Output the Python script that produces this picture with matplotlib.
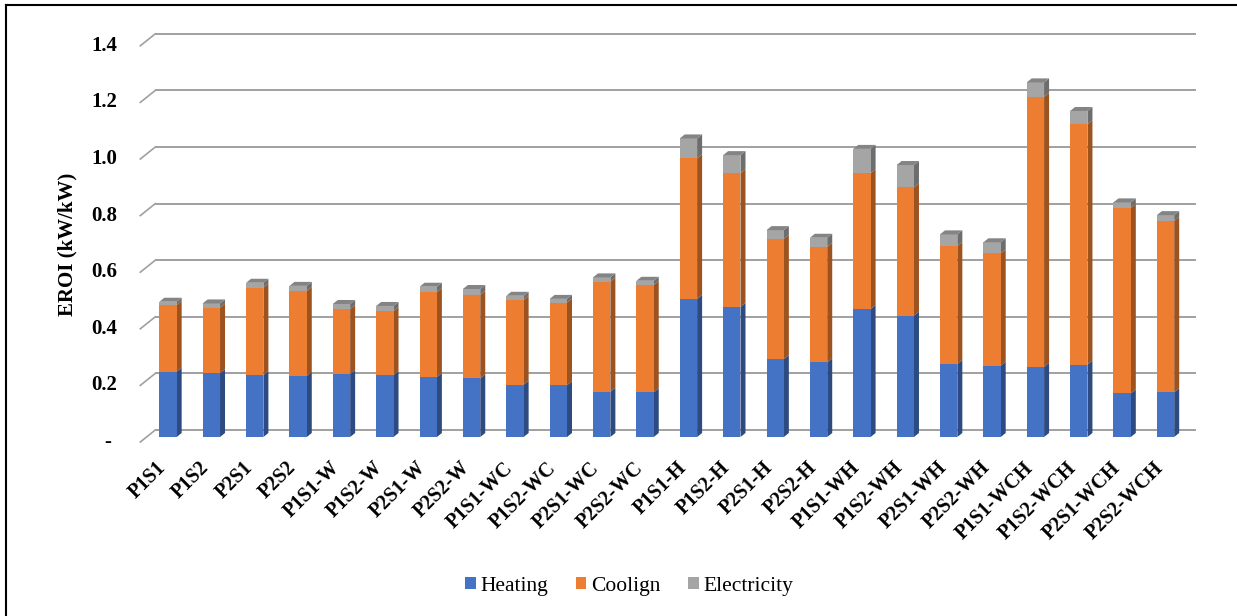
import matplotlib
matplotlib.use('agg')
import matplotlib.pyplot as plt
import matplotlib.colors as mcolors
from matplotlib.lines import Line2D
from matplotlib.patches import Patch, Polygon
import numpy as np

scenarios = ['P1S1', 'P1S2', 'P2S1', 'P2S2',
             'P1S1-W', 'P1S2-W', 'P2S1-W', 'P2S2-W',
             'P1S1-WC', 'P1S2-WC', 'P2S1-WC', 'P2S2-WC',
             'P1S1-H', 'P1S2-H', 'P2S1-H', 'P2S2-H',
             'P1S1-WH', 'P1S2-WH', 'P2S1-WH', 'P2S2-WH',
             'P1S1-WCH', 'P1S2-WCH', 'P2S1-WCH', 'P2S2-WCH']

heating = [0.231, 0.225, 0.219, 0.216, 0.223, 0.219, 0.212, 0.207,
           0.185, 0.183, 0.160, 0.158, 0.488, 0.460, 0.275, 0.264,
           0.452, 0.429, 0.258, 0.252, 0.248, 0.256, 0.154, 0.158]
cooling = [0.235, 0.232, 0.309, 0.300, 0.229, 0.226, 0.300, 0.295,
           0.299, 0.292, 0.389, 0.379, 0.497, 0.472, 0.425, 0.408,
           0.480, 0.453, 0.417, 0.397, 0.954, 0.849, 0.656, 0.606]
electricity = [0.012, 0.015, 0.017, 0.018, 0.018, 0.018, 0.019, 0.021,
               0.015, 0.013, 0.015, 0.015, 0.070, 0.064, 0.031, 0.032,
               0.086, 0.079, 0.041, 0.039, 0.051, 0.047, 0.019, 0.020]

series_names = ['Heating', 'Coolign', 'Electricity']
series_colors = ['#4472C4', '#ED7D31', '#A5A5A5']
y_ticks = [0.0, 0.2, 0.4, 0.6, 0.8, 1.0, 1.2, 1.4]
y_labels = ['-', '0.2', '0.4', '0.6', '0.8', '1.0', '1.2', '1.4']

plt.rcParams['font.family'] = ['Liberation Serif', 'DejaVu Serif']

W, H = 1237, 616
fig = plt.figure(figsize=(W / 100, H / 100), dpi=100)

# plotting plane of the bar fronts, in pixels
left_px, right_px = 146.3, 1187.2
base_px, top_px = 437.0, 40.8
ax = fig.add_axes([left_px / W, 1 - base_px / H,
                   (right_px - left_px) / W, (base_px - top_px) / H])
n = len(scenarios)
ax.set_xlim(-0.5, n - 0.5)
ax.set_ylim(0, 1.4)
ax.axis('off')

# pixel -> data conversions for the fake depth
px_x = (right_px - left_px) / n
px_y = (base_px - top_px) / 1.4
def dx(p):
    return p / px_x
def dy(p):
    return p / px_y

grid_col = '#a0a0a0'
x0, x1 = -0.5, n - 0.5
for v, lab in zip(y_ticks, y_labels):
    # back wall line
    ax.plot([x0 + dx(9), x1 + dx(9)], [v + dy(7), v + dy(7)], color=grid_col,
            lw=1.4, clip_on=False, zorder=0, solid_capstyle='butt')
    # short depth stub on the left
    ax.plot([x0 - dx(6), x0 + dx(9)], [v - dy(5), v + dy(7)], color=grid_col,
            lw=1.2, clip_on=False, zorder=0)
    pad = 23 if lab != '-' else 29
    ax.text(x0 - dx(6) - dx(pad), v - dy(5), lab, ha='right', va='center',
            fontsize=15, fontweight='bold', clip_on=False)

def shade(c, f):
    r, g, b = mcolors.to_rgb(c)
    return (r * f, g * f, b * f)

bw = 0.40
ddx, ddy = dx(5), dy(4)
x = np.arange(n)
bottom = np.zeros(n)
for vals, col in zip([heating, cooling, electricity], series_colors):
    vals = np.array(vals)
    ax.bar(x, vals, bw, bottom=bottom, color=col, linewidth=0, zorder=3)
    for i in range(n):
        xr = x[i] + bw / 2
        y0, y1 = bottom[i], bottom[i] + vals[i]
        side = Polygon([(xr, y0), (xr + ddx, y0 + ddy), (xr + ddx, y1 + ddy), (xr, y1)],
                       closed=True, facecolor=shade(col, 0.66), edgecolor='none',
                       zorder=2)
        ax.add_patch(side)
    bottom = bottom + vals

top_col = series_colors[-1]
for i in range(n):
    xl, xr = x[i] - bw / 2, x[i] + bw / 2
    y1 = bottom[i]
    top = Polygon([(xl, y1), (xl + ddx, y1 + ddy), (xr + ddx, y1 + ddy), (xr, y1)],
                  closed=True, facecolor=shade(top_col, 0.8), edgecolor='none',
                  zorder=4, clip_on=False)
    ax.add_patch(top)

for i, lab in enumerate(scenarios):
    ax.text(i - dx(5), -dy(28), lab, rotation=45, ha='right', va='center',
            rotation_mode='anchor', fontsize=14.5, fontweight='bold', clip_on=False)

fig.text(67 / W, 1 - 244 / H, 'EROI (kW/kW)', rotation=90, ha='center', va='center',
         fontsize=15, fontweight='bold')

handles = [Patch(facecolor=c, edgecolor='none', label=s)
           for s, c in zip(series_names, series_colors)]
fig.legend(handles=handles, loc='center', bbox_to_anchor=(629 / W, 1 - 586 / H),
           ncol=3, frameon=False, fontsize=15.5, handlelength=0.5, handleheight=0.5,
           handletextpad=0.2, columnspacing=1.3)

# outer frame (left and top edges)
fig.add_artist(Line2D([6 / W, 6 / W], [0, 1 - 5 / H], transform=fig.transFigure,
                      color='black', lw=1.5))
fig.add_artist(Line2D([6 / W, 1], [1 - 5 / H, 1 - 5 / H], transform=fig.transFigure,
                      color='black', lw=1.5))

fig.savefig('out.png', dpi=100)
plt.close(fig)
